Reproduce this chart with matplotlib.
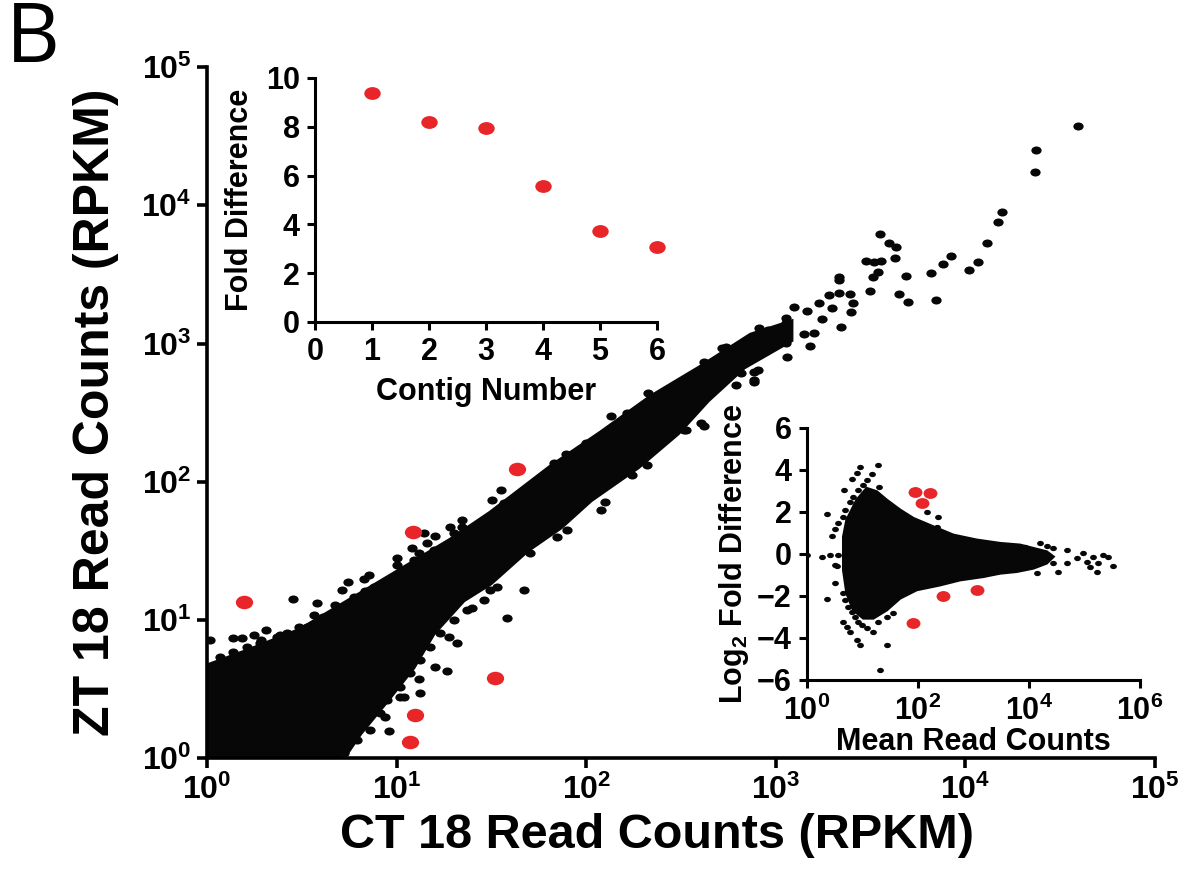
import numpy as np
import matplotlib
matplotlib.use("Agg")
import matplotlib.pyplot as plt
from matplotlib.path import Path

plt.rcParams['font.family'] = ['Liberation Sans', 'DejaVu Sans']
plt.rcParams['font.weight'] = 'bold'
plt.rcParams['axes.labelweight'] = 'bold'
plt.rcParams['mathtext.fontset'] = 'custom'
plt.rcParams['mathtext.rm'] = 'Liberation Sans:bold'
plt.rcParams['mathtext.it'] = 'Liberation Sans:bold'
plt.rcParams['mathtext.bf'] = 'Liberation Sans:bold'

# ---------------- main scatter: CT 18 vs ZT 18 (log10 RPKM) ----------------
# outline of the dense, fully overlapping part of the cloud (log10 units)
band_upper_ct = [0.0, 0.227, 0.491, 0.755, 1.020, 1.284, 1.495, 1.812, 2.076,
                 2.340, 2.604, 2.868, 3.080]
band_upper_zt = [0.666, 0.781, 0.926, 1.143, 1.360, 1.577, 1.773, 2.106, 2.352,
                 2.612, 2.829, 3.061, 3.155]
band_lower_ct = [3.080, 2.831, 2.641, 2.483, 2.272, 2.023, 1.865, 1.690, 1.495,
                 1.352, 1.194, 1.088, 0.951, 0.808, 0.718, 0.0]
band_lower_zt = [3.025, 2.829, 2.590, 2.352, 2.106, 1.867, 1.671, 1.505, 1.266,
                 1.143, 0.904, 0.658, 0.420, 0.181, 0.0, 0.0]

# contigs along the ragged rim of the dense band (log10 units)
rim_ct = [0.069, 0.139, 0.210, 0.280, 0.368, 0.421, 0.527, 0.632, 0.703, 0.773,
          0.879, 0.949, 1.020, 1.090, 1.196, 1.301, 1.407, 1.495,
          0.720, 0.791, 0.861, 0.914, 0.949, 1.020, 1.072, 1.125, 1.178, 1.231,
          1.301, 1.372, 1.460, 1.530]
rim_zt = [0.733, 0.769, 0.805, 0.830, 0.878, 0.902, 0.950, 1.022, 1.071, 1.167,
          1.240, 1.288, 1.348, 1.433, 1.505, 1.577, 1.650, 1.746,
          0.034, 0.130, 0.203, 0.323, 0.420, 0.516, 0.613, 0.709, 0.805, 0.902,
          0.999, 1.071, 1.143, 1.240]

# individual contigs outside the dense band (log10 units)
sparse_ct = [0.453, 0.580, 0.676, 0.712, 0.746, 0.826, 0.852, 0.835, 0.614, 0.562,
             0.486, 0.310, 0.250, 0.139, 0.183, 0.016, 0.285, 0.386, 1.002, 1.002,
             1.143, 1.204, 1.161, 1.284, 1.345, 1.345, 1.301, 1.116, 1.081, 2.129,
             2.001, 1.891, 1.829, 1.548, 1.504, 1.565, 2.326, 2.622, 2.736, 2.217,
             1.398, 1.319, 1.275, 1.266, 1.204, 1.121, 1.120, 1.037, 0.958, 0.937,
             1.495, 1.583, 1.671, 1.020, 2.622, 2.516, 2.323, 2.244, 2.099, 2.076,
             1.900, 1.847, 1.706, 2.886, 2.816, 2.904, 2.525,
             3.552, 3.599, 3.634, 3.626, 3.476, 3.520, 3.555, 3.538, 3.511, 3.499,
             3.335, 3.335, 3.282, 3.335, 3.393, 3.406, 3.397, 3.296, 3.226, 3.244,
             3.344, 3.163, 3.097, 3.053, 3.053, 3.150, 3.200, 3.182, 3.053, 3.057,
             3.010, 3.027, 2.974, 2.912, 2.957, 2.886, 2.886, 2.886, 2.957, 2.789,
             2.714, 2.604,
             4.596, 4.374, 4.369, 4.194, 4.173, 4.115, 4.068, 4.020, 3.925, 3.883,
             3.819, 3.687, 3.846, 3.698, 3.650]
sparse_zt = [1.150, 1.119, 1.107, 1.216, 1.276, 1.293, 1.324, 1.211, 1.022, 1.035,
             0.950, 0.926, 0.890, 0.870, 0.870, 0.854, 0.854, 0.890, 1.445, 1.397,
             1.626, 1.609, 1.554, 1.674, 1.722, 1.674, 1.626, 1.486, 1.517, 2.477,
             2.277, 2.200, 2.132, 1.939, 1.867, 1.843, 2.639, 2.868, 2.976, 2.494,
             1.083, 0.834, 0.878, 0.632, 0.661, 0.473, 0.572, 0.444, 0.198, 0.299,
             1.216, 1.011, 1.216, 0.444, 2.402, 2.373, 2.120, 2.048, 1.855, 1.795,
             1.650, 1.601, 1.481, 2.735, 2.784, 2.808, 2.373,
             3.789, 3.724, 3.700, 3.616, 3.596, 3.591, 3.596, 3.519, 3.483, 3.379,
             3.483, 3.459, 3.350, 3.363, 3.355, 3.290, 3.229, 3.254, 3.290, 3.177,
             3.116, 3.237, 3.266, 3.182, 3.146, 3.066, 3.073, 2.981, 3.001, 2.899,
             3.097, 3.061, 3.073, 3.109, 3.097, 3.012, 2.795, 2.723, 2.965, 2.699,
             2.965, 2.422,
             4.573, 4.399, 4.240, 3.951, 3.878, 3.727, 3.589, 3.531, 3.632, 3.575,
             3.509, 3.488, 3.314, 3.300, 3.357]

# highlighted contigs (RPKM)
hit_ct = [1.57, 12.2, 43.3, 33.0, 12.5, 11.8]
hit_zt = [13.4, 43.2, 123.0, 3.79, 2.05, 1.31]

main_ticks = [1, 10, 100, 1000, 10000, 100000]
main_ticklabels = [r'$10^{0}$', r'$10^{1}$', r'$10^{2}$', r'$10^{3}$', r'$10^{4}$', r'$10^{5}$']

# ---------------- inset: fold difference per contig ----------------
contig_number = [1, 2, 3, 4, 5, 6]
fold_difference = [9.37, 8.18, 7.94, 5.59, 3.74, 3.06]

# ---------------- inset: MA plot ----------------
ma_cloud_mean = [0.655, 0.715, 0.895, 1.075, 1.256, 1.436, 1.676, 1.916, 2.276, 2.636,
                 3.057, 3.477, 3.838, 4.078, 4.318, 4.438,
                 4.318, 4.078, 3.778, 3.477, 3.177, 2.757, 2.396, 1.976, 1.676, 1.436,
                 1.195, 1.015, 0.835, 0.715, 0.655]
ma_cloud_lfc = [0.82, 1.62, 2.57, 3.13, 2.97, 2.57, 2.10, 1.70, 1.30, 0.905,
                0.67, 0.51, 0.43, 0.27, 0.11, -0.13,
                -0.44, -0.68, -0.84, -0.92, -1.08, -1.24, -1.48, -1.71, -2.11, -2.67,
                -3.06, -3.06, -2.67, -1.87, -0.76]
ma_sparse_mean = [0.354, 0.504, 0.444, 0.565, 0.655, 0.685, 0.775, 0.835, 0.925, 1.015,
                  1.075, 1.165, 0.667, 0.805, 0.895, 0.955, 1.285, 1.303, 2.156, 2.366,
                  2.336,
                  0.354, 0.504, 0.534, 0.655, 0.685, 0.745, 0.805, 0.865, 0.925, 0.985,
                  0.655, 0.715, 0.775, 0.895, 0.955, 1.075, 1.195, 1.285, 1.435, 1.315,
                  1.435, 1.555,
                  0.0, 0.264, 0.414, 0.565, 0.504,
                  4.198, 4.318, 4.438, 4.679, 4.859, 4.979, 5.039, 5.159, 5.249, 5.339,
                  5.429, 5.519, 5.219, 5.099, 4.679, 4.528, 4.438, 3.928, 4.138]
ma_sparse_lfc = [1.89, 1.17, 0.86, 1.49, 1.78, 2.10, 2.49, 2.73, 3.05, 3.29,
                 3.52, 3.79, 3.05, 3.56, 3.84, 4.16, 4.24, 3.21, 1.98, 1.75,
                 1.30,
                 -2.14, -1.40, -0.56, -1.87, -2.19, -2.51, -2.75, -2.98, -3.22, -3.38,
                 -3.22, -3.46, -3.70, -4.10, -4.33, -3.54, -3.70, -3.22, -4.33, -5.52,
                 -2.98, -2.83,
                 -0.05, -0.13, -0.05, -0.05, -0.52,
                 0.54, 0.38, 0.27, 0.19, -0.21, 0.03, -0.37, -0.13, -0.44, -0.05,
                 -0.13, -0.57, -0.84, -0.60, -0.44, -0.84, -0.44, 0.35, -0.92]
ma_hit_mean = [88, 164, 120, 279, 1140, 82]
ma_hit_lfc = [2.97, 2.92, 2.44, -1.99, -1.71, -3.30]

ma_xticks = [1, 100, 10000, 1000000]
ma_xticklabels = [r'$10^{0}$', r'$10^{2}$', r'$10^{4}$', r'$10^{6}$']

RED = '#E8262A'
INK = '#070707'
circle = Path.unit_circle()
oval = Path(circle.vertices * np.array([1.28, 1.0]), circle.codes)


def style_axes(ax, lw, tlen, lsize, pad=4):
    for side in ('top', 'right'):
        ax.spines[side].set_visible(False)
    for side in ('left', 'bottom'):
        ax.spines[side].set_linewidth(lw)
    ax.tick_params(direction='out', length=tlen, width=lw, labelsize=lsize, pad=pad)
    for lab in ax.get_xticklabels() + ax.get_yticklabels():
        lab.set_fontweight('bold')


fig = plt.figure(figsize=(11.91, 8.69), dpi=100)

# main panel
ax = fig.add_axes([0.1738, 0.1277, 0.796, 0.795])
ax.set_xscale('log')
ax.set_yscale('log')
ax.set_xlim(1, 1e5)
ax.set_ylim(1, 1e5)
poly_x = 10 ** np.array(band_upper_ct + band_lower_ct)
poly_y = 10 ** np.array(band_upper_zt + band_lower_zt)
ax.fill(poly_x, poly_y, facecolor=INK, edgecolor=INK, lw=3.5, zorder=2)
ax.scatter(10 ** np.array(rim_ct), 10 ** np.array(rim_zt), s=55, marker=oval,
           color=INK, linewidths=0, zorder=3)
ax.scatter(10 ** np.array(sparse_ct), 10 ** np.array(sparse_zt), s=55, marker=oval,
           color=INK, linewidths=0, zorder=3)
ax.scatter(hit_ct, hit_zt, s=155, marker=oval, color=RED, linewidths=0, zorder=4)
ax.set_xticks(main_ticks)
ax.set_xticklabels(main_ticklabels)
ax.set_yticks(main_ticks)
ax.set_yticklabels(main_ticklabels)
ax.minorticks_off()
style_axes(ax, 2.6, 7, 23)
ax.tick_params(axis='x', pad=5)
ax.set_xlabel('CT 18 Read Counts (RPKM)', fontsize=35, fontweight='bold')
ax.xaxis.set_label_coords(0.475, -0.080)
ax.set_ylabel('ZT 18 Read Counts (RPKM)', fontsize=36, fontweight='bold', labelpad=16)
ax.patch.set_alpha(0)

# inset: fold difference
ax1 = fig.add_axes([0.2645, 0.6295, 0.2872, 0.2808])
ax1.set_xlim(0, 6)
ax1.set_ylim(0, 10)
ax1.scatter(contig_number, fold_difference, s=140, marker=oval, color=RED,
            linewidths=0, zorder=4, clip_on=False)
ax1.set_xticks(range(0, 7))
ax1.set_yticks(range(0, 11, 2))
style_axes(ax1, 2.2, 6, 22, pad=5)
ax1.set_xlabel('Contig Number', fontsize=22, fontweight='bold', labelpad=7)
ax1.set_ylabel('Fold Difference', fontsize=22, fontweight='bold', labelpad=8)
ax1.patch.set_alpha(0)

# inset: MA plot
ax2 = fig.add_axes([0.6776, 0.2175, 0.2796, 0.29])
ax2.set_xscale('log')
ax2.set_xlim(1, 1e6)
ax2.set_ylim(-6, 6)
ax2.fill(10 ** np.array(ma_cloud_mean), ma_cloud_lfc, facecolor=INK,
         edgecolor=INK, lw=2.0, zorder=2)
ax2.scatter(10 ** np.array(ma_sparse_mean), ma_sparse_lfc, s=24, marker=oval,
            color=INK, linewidths=0, zorder=3)
ax2.scatter(ma_hit_mean, ma_hit_lfc, s=100, marker=oval, color=RED, linewidths=0,
            zorder=4)
ax2.set_xticks(ma_xticks)
ax2.set_xticklabels(ma_xticklabels)
ax2.minorticks_off()
ax2.set_yticks(range(-6, 7, 2))
style_axes(ax2, 2.2, 6, 22, pad=5)
ax2.set_xlabel('Mean Read Counts', fontsize=22, fontweight='bold', labelpad=0)
ax2.set_ylabel(r'Log$_{2}$ Fold Difference', fontsize=22, fontweight='bold', labelpad=4)
ax2.patch.set_alpha(0)

fig.text(0.005, 1.0, 'B', fontsize=60, family=['Open Sans', 'DejaVu Sans'],
         fontweight='normal', va='top', ha='left')

fig.savefig('out.png', dpi=100)
